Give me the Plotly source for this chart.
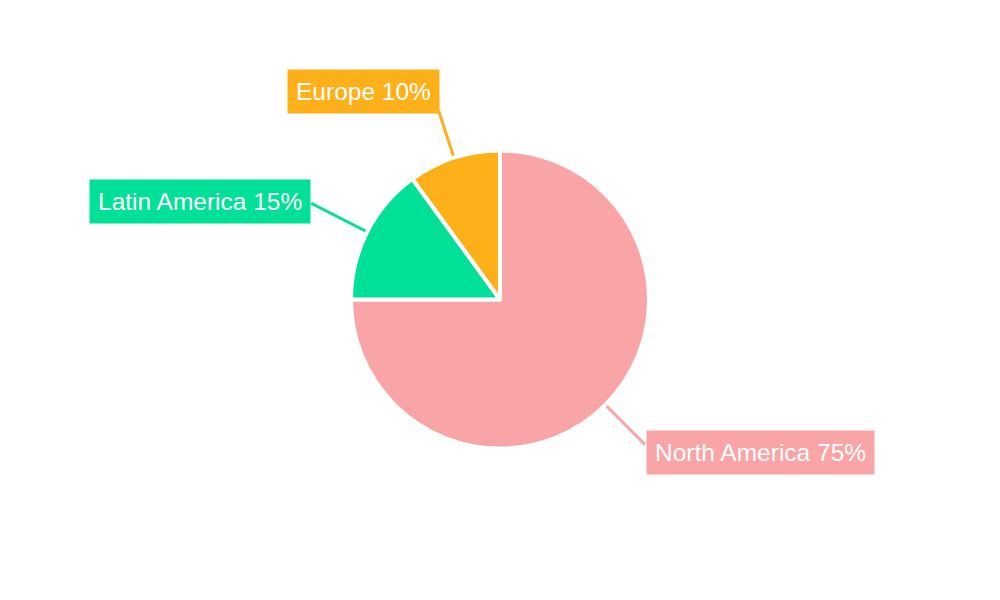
import math
import plotly.graph_objects as go

# ---- data ----
regions = ["North America", "Latin America", "Europe"]
shares = [75, 15, 10]
colors = ["#F9A4A6", "#00E096", "#FDB01A"]

# ---- layout constants ----
W, H = 1000, 600
CX, CY = 500, 299.5       # pie centre in pixels
R = 149                   # pie radius in pixels (geometric)
R_EDGE = 146              # where leader lines start
# per-label line length and box anchoring relative to line end (pixels)
label_anchor = {
    "North America": dict(length=59, xanchor="left", yanchor="middle", dx=1, dy=8.5),
    "Latin America": dict(length=66, xanchor="right", yanchor="middle", dx=0, dy=-2),
    "Europe": dict(length=53, xanchor="right", yanchor="bottom", dx=1, dy=4),
}

fig = go.Figure()
fig.add_trace(go.Pie(
    labels=regions, values=shares, sort=False, direction="clockwise", rotation=0,
    marker=dict(colors=colors, line=dict(color="white", width=4)),
    textinfo="none", hoverinfo="label+percent", showlegend=False,
    domain=dict(x=[0, 1], y=[1 - (CY + R) / H, 1 - (CY - R) / H]),
))

def px(x):
    return x / W

def py(y):
    return 1 - y / H

total = sum(shares)
cum = 0
shapes = []
annotations = []
for name, v, c in zip(regions, shares, colors):
    mid = (cum + v / 2) / total * 2 * math.pi
    cum += v
    a = label_anchor[name]
    ux, uy = math.sin(mid), -math.cos(mid)
    x0, y0 = CX + R_EDGE * ux, CY + R_EDGE * uy
    x1, y1 = CX + (R_EDGE + a["length"]) * ux, CY + (R_EDGE + a["length"]) * uy
    shapes.append(dict(type="line", xref="paper", yref="paper",
                       x0=px(x0), y0=py(y0), x1=px(x1), y1=py(y1),
                       line=dict(color=c, width=3), layer="below"))
    pct = round(v / total * 100)
    annotations.append(dict(
        text=f"{name} {pct}%", xref="paper", yref="paper",
        x=px(x1 + a["dx"]), y=py(y1 + a["dy"]),
        xanchor=a["xanchor"], yanchor=a["yanchor"], showarrow=False,
        font=dict(family="Liberation Sans, Arial, sans-serif", size=24.5, color="white"),
        bgcolor=c, borderpad=8,
    ))

fig.update_layout(
    width=W, height=H, margin=dict(l=0, r=0, t=0, b=0),
    paper_bgcolor="white", plot_bgcolor="white",
    shapes=shapes, annotations=annotations,
)

fig.write_html("out.html", config={"displayModeBar": False},
               post_script="document.body.style.margin='0px';")
